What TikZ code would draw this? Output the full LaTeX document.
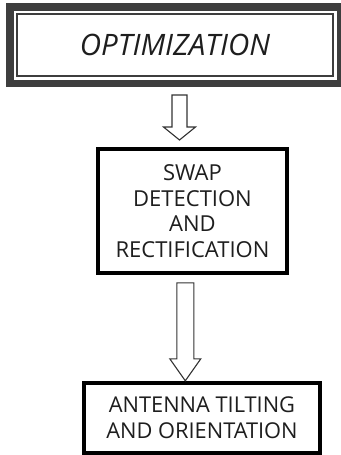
\documentclass[tikz,border=0pt]{standalone}
\usepackage{fontspec}
\setmainfont{Open Sans}
\usepackage{xcolor}
\usetikzlibrary{positioning}

\definecolor{bandgray}{HTML}{3E3E3E}
\definecolor{inkgray}{HTML}{1E1E1E}

\begin{document}
\begin{tikzpicture}[
  x=1pt, y=1pt,
  titlebox/.style={rectangle, draw=bandgray, line width=7.5pt, fill=white, minimum width=330.5pt, minimum height=76.5pt, font=\fontsize{29.5}{34}\selectfont\itshape, text=inkgray},
  stepbox/.style={rectangle, draw=black, line width=4.3pt, fill=white, align=center, text=inkgray},
  hollow/.style={draw=black!80, line width=1.1pt, fill=white, line join=miter}
]
\useasboundingbox (0,0) rectangle (340,-455);
\node[titlebox] (opt) at (175,-45) {OPTIMIZATION};
\draw[bandgray, line width=2pt] ([shift={(11,-11)}]opt.north west) rectangle ([shift={(-11,11)}]opt.south east);
\node[stepbox, below=60pt of opt, xshift=17.5pt, minimum width=188.5pt, minimum height=123.5pt, font=\fontsize{22}{25.5}\selectfont] (swap) {SWAP\\DETECTION\\AND\\RECTIFICATION};
\node[stepbox, below=106pt of swap, xshift=9.5pt, minimum width=235.7pt, minimum height=69.7pt, font=\fontsize{21.8}{26}\selectfont] (tilt) {ANTENNA TILTING\\AND ORIENTATION};
% hollow arrows between the boxes
\coordinate (a1tip) at ([xshift=-13pt,yshift=7pt]swap.north);
\coordinate (a2tip) at ([xshift=-16.7pt]tilt.north);
\draw[hollow] (a1tip) -- ++(-16,13) -- ++(8.5,0) -- ++(0,32) -- ++(15,0) -- ++(0,-32) -- ++(8.5,0) -- cycle;
\draw[hollow] (a2tip) -- ++(-15.5,22) -- ++(7,0) -- ++(0,76) -- ++(17,0) -- ++(0,-76) -- ++(7,0) -- cycle;
\end{tikzpicture}
\end{document}
